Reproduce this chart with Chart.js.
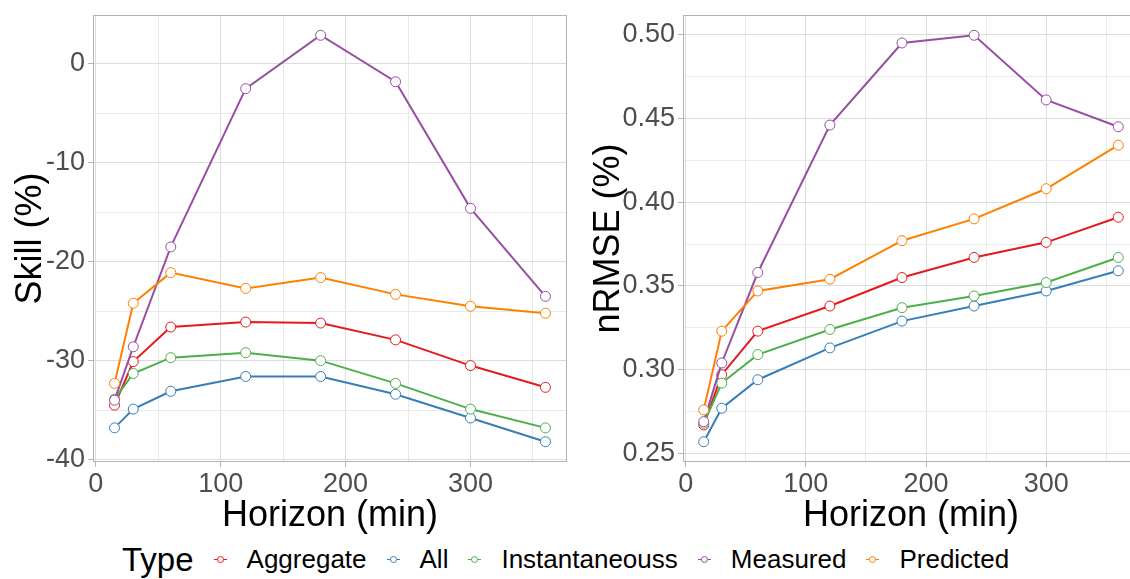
<!DOCTYPE html>
<html>
<head>
<meta charset="utf-8">
<script src="https://cdn.jsdelivr.net/npm/chart.js@4.4.0/dist/chart.umd.min.js"></script>
<style>
  body { margin: 0; width: 1130px; height: 579px; overflow: hidden; background: #fff; position: relative; font-family: "Liberation Sans", Arial, sans-serif; }
  #left { position: absolute; left: 0; top: 0; }
  #right { position: absolute; left: 575px; top: 0; }
  #legend { position: absolute; left: 122px; top: 546px; height: 26px; display: flex; align-items: center; white-space: nowrap; }
  #legend .ttl { font-size: 33px; line-height: 33px; margin-right: 20px; color: #000; }
  #legend .key { position: relative; display: inline-block; width: 13px; height: 9px; margin-right: 20px; }
  #legend .key .ln { position: absolute; left: 0; right: 0; top: 4px; height: 1px; }
  #legend .key .pt { position: absolute; left: 3px; top: 1px; width: 5px; height: 5px; border-radius: 50%; background: #fff; border: 1px solid; }
  #legend .lbl { font-size: 26px; line-height: 26px; margin-right: 20px; color: #000; }
</style>
</head>
<body>
<canvas id="left" width="575" height="540"></canvas>
<canvas id="right" width="570" height="540"></canvas>
<div id="legend"></div>
<script>
const horizon = [15, 30, 60, 120, 180, 240, 300, 360];
const types = ['Aggregate', 'All', 'Instantaneouss', 'Measured', 'Predicted'];
const colors = ['#E41A1C', '#377EB8', '#4DAF4A', '#984EA3', '#FF7F00'];

const skillAggregate = [-34.5, -30.1, -26.6, -26.1, -26.2, -27.9, -30.5, -32.7];
const skillAll = [-36.8, -34.9, -33.1, -31.6, -31.6, -33.4, -35.8, -38.2];
const skillInstant = [-33.9, -31.3, -29.7, -29.2, -30.0, -32.3, -34.9, -36.8];
const skillMeasured = [-34.0, -28.6, -18.5, -2.5, 2.9, -1.8, -14.6, -23.5];
const skillPredicted = [-32.3, -24.2, -21.1, -22.7, -21.6, -23.3, -24.5, -25.2];

const nrmseAggregate = [0.267, 0.297, 0.323, 0.338, 0.355, 0.367, 0.376, 0.391];
const nrmseAll = [0.257, 0.277, 0.294, 0.313, 0.329, 0.338, 0.347, 0.359];
const nrmseInstant = [0.268, 0.292, 0.309, 0.324, 0.337, 0.344, 0.352, 0.367];
const nrmseMeasured = [0.269, 0.304, 0.358, 0.446, 0.495, 0.4996, 0.461, 0.445];
const nrmsePredicted = [0.276, 0.323, 0.347, 0.354, 0.377, 0.390, 0.408, 0.434];

const xTicks = [0, 50, 100, 150, 200, 250, 300, 350];
const skillTicks = [-40, -35, -30, -25, -20, -15, -10, -5, 0];
const nrmseTicks = [0.25, 0.275, 0.3, 0.325, 0.35, 0.375, 0.4, 0.425, 0.45, 0.475, 0.5];

const GRID_MAJOR = '#dcdcdc';
const GRID_MINOR = '#e9e9e9';
const BORDER = '#b3b3b3';

// full panel border like ggplot theme_light
const panelBorder = {
    id: 'panelBorder',
    afterDraw(chart) {
        const a = chart.chartArea;
        const c = chart.ctx;
        c.save();
        c.strokeStyle = BORDER;
        c.lineWidth = 1;
        c.strokeRect(a.left + 0.5, a.top + 0.5, a.right - a.left - 1, a.bottom - a.top - 1);
        c.restore();
    }
};

const makeDatasets = (series) => series.map((vals, i) => ({
    label: types[i],
    data: vals.map((v, j) => ({ x: horizon[j], y: v })),
    borderColor: colors[i],
    backgroundColor: '#fff',
    borderWidth: 2,
    pointRadius: 5,
    pointBorderWidth: 1,
    pointBackgroundColor: '#fff',
    pointBorderColor: colors[i],
    tension: 0,
    order: series.length - i
}));

const makeChart = (canvas, series, o) => new Chart(canvas, {
    type: 'line',
    data: { datasets: makeDatasets(series) },
    options: {
        responsive: false,
        animation: false,
        layout: { padding: { top: 15, right: o.padRight, left: 0, bottom: 0 } },
        plugins: { legend: { display: false }, tooltip: { enabled: false } },
        scales: {
            x: {
                type: 'linear',
                min: -2.25,
                max: 377.25,
                afterBuildTicks: s => { s.ticks = xTicks.map(v => ({ value: v })); },
                afterFit: s => { s.height = 78; s.paddingLeft = 0; s.paddingRight = 0; },
                border: { display: false },
                grid: {
                    color: c => c.tick && c.tick.value % 100 === 0 ? GRID_MAJOR : GRID_MINOR,
                    tickColor: c => c.tick && c.tick.value % 100 === 0 ? BORDER : 'rgba(0,0,0,0)',
                    tickLength: 5,
                    lineWidth: 1
                },
                ticks: {
                    autoSkip: false,
                    maxRotation: 0,
                    padding: 1,
                    color: '#4d4d4d',
                    font: { family: 'Liberation Sans', size: 27 },
                    callback: v => v % 100 === 0 ? String(v) : ''
                },
                title: {
                    display: true,
                    text: 'Horizon (min)',
                    color: '#000',
                    font: { family: 'Liberation Sans', size: 36, lineHeight: 1 },
                    padding: { top: 0, bottom: 6 }
                }
            },
            y: {
                type: 'linear',
                min: o.yMin,
                max: o.yMax,
                afterBuildTicks: s => { s.ticks = o.yTicks.map(v => ({ value: v })); },
                afterFit: s => { s.width = o.yWidth; s.paddingTop = 0; s.paddingBottom = 0; },
                border: { display: false },
                grid: {
                    color: c => c.tick && o.isMajor(c.index) ? GRID_MAJOR : GRID_MINOR,
                    tickColor: c => c.tick && o.isMajor(c.index) ? BORDER : 'rgba(0,0,0,0)',
                    tickLength: 5,
                    lineWidth: 1
                },
                ticks: {
                    autoSkip: false,
                    padding: 3,
                    color: '#4d4d4d',
                    font: { family: 'Liberation Sans', size: 27 },
                    callback: (v, i) => o.isMajor(i) ? o.fmt(v) : ''
                },
                title: {
                    display: true,
                    text: o.yTitle,
                    color: '#000',
                    font: { family: 'Liberation Sans', size: 36, lineHeight: 1 },
                    padding: { top: o.titlePad, bottom: 0 }
                }
            }
        }
    },
    plugins: [panelBorder]
});

makeChart(document.getElementById('left'),
    [skillAggregate, skillAll, skillInstant, skillMeasured, skillPredicted], {
    yMin: -40.25, yMax: 4.95, yTicks: skillTicks, yWidth: 93, padRight: 8, titlePad: 13,
    yTitle: 'Skill (%)',
    isMajor: i => i % 2 === 0,
    fmt: v => String(v)
});

makeChart(document.getElementById('right'),
    [nrmseAggregate, nrmseAll, nrmseInstant, nrmseMeasured, nrmsePredicted], {
    yMin: 0.2449, yMax: 0.5117, yTicks: nrmseTicks, yWidth: 108, padRight: 6, titlePad: 16,
    yTitle: 'nRMSE (%)',
    isMajor: i => i % 2 === 0,
    fmt: v => v.toFixed(2)
});

// legend, built from the same names and colours
const legend = document.getElementById('legend');
legend.innerHTML = '<span class="ttl">Type</span>' + types.map((t, i) =>
    `<span class="key"><span class="ln" style="background:${colors[i]}"></span>` +
    `<span class="pt" style="border-color:${colors[i]}"></span></span><span class="lbl">${t}</span>`
).join('');
</script>
</body>
</html>
